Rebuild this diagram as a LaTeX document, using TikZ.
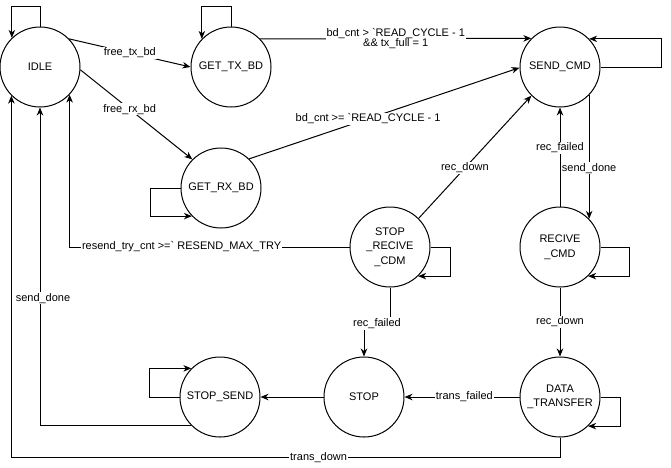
\documentclass[tikz,border=0pt]{standalone}
\usepackage{fontspec}
\setmainfont{Liberation Sans}
\usetikzlibrary{arrows.meta}
\begin{document}
\begin{tikzpicture}[x=1pt,y=-1pt,line width=1pt,
  state/.style={draw,circle,minimum size=80pt,inner sep=0pt,align=center,font=\fontsize{11}{14.5}\selectfont},
  lbl/.style={fill=white,inner sep=1pt,font=\fontsize{11}{11}\selectfont,align=center},
  arr/.style={-{Stealth[length=8pt,width=6.5pt,inset=2.5pt]}}]
\useasboundingbox (0,0) rectangle (671,467);
\node[state] (idle) at (40,67) {IDLE};
\node[state] (gettx) at (231,67) {GET\_TX\_BD};
\node[state] (send) at (560,67) {SEND\_CMD};
\node[state] (getrx) at (221,188) {GET\_RX\_BD};
\node[state] (sr) at (390,247) {STOP\\\_RECIVE\\\_CDM};
\node[state] (recv) at (560,247) {RECIVE\\\_CMD};
\node[state] (stop) at (364,397) {STOP};
\node[state] (data) at (560,397) {DATA\\\_TRANSFER};
\node[state] (ss) at (220,397) {STOP\_SEND};

% self loops
\draw[arr] (idle.north) -- ++(0,-20) -| (idle.134.4);
\draw[arr] (gettx.north) -- ++(0,-20) -| (gettx.136.5);
\draw[arr] (send.east) -- ++(61,0) |- (send.44.4);
\draw[arr] (getrx.west) -- ++(-30,0) |- (getrx.224.4);
\draw[arr] (recv.east) -- ++(29,0) |- (recv.-46.5);
\draw[arr] (sr.east) -- ++(20,0) |- (sr.-46.5);
\draw[arr] (data.east) -- ++(20,0) |- (data.-46.5);
\draw[arr] (ss.west) -- ++(-30,0) |- (ss.135.6);

% transitions
\draw[arr] (idle.44) -- node[lbl] {free\_tx\_bd} (gettx.west);
\draw[arr] (idle.-4) -- node[lbl,pos=0.44] {free\_rx\_bd} (getrx.135);
\draw[arr] (gettx.44.4) -- node[lbl] {bd\_cnt > \textasciigrave READ\_CYCLE - 1\\[-0.5pt]\&\& tx\_full = 1} (send.135.6);
\draw[arr] (getrx.46) -- node[lbl,pos=0.44] {bd\_cnt >= \textasciigrave READ\_CYCLE - 1} (send.181);
\draw[arr] (sr.45) -- node[lbl,pos=0.41] {rec\_down} (send.225);
\draw[arr] (send.-44.4) -- node[lbl,pos=0.59] {send\_done} (recv.44.4);
\draw[arr] (recv.north) -- node[lbl,pos=0.59] {rec\_failed} (send.south);
\draw[arr] (sr.west) -| node[lbl,pos=0.3] {resend\_try\_cnt >=\textasciigrave{} RESEND\_MAX\_TRY} (idle.-43.5);
\draw[arr] (sr.south) -- ++(0,36) -| node[lbl,pos=0.25] {rec\_failed} (stop.north);
\draw[arr] (recv.south) -- node[lbl] {rec\_down} (data.north);
\draw[arr] (data.west) -- node[lbl,pos=0.48] {trans\_failed} (stop.east);
\draw[arr] (stop.west) -- (ss.east);
\draw[arr] (ss.225) -| node[lbl,pos=0.7,xshift=3pt] {send\_done} (idle.south);
\draw[arr] (data.south) -- ++(0,20) -| node[lbl,pos=0.22] {trans\_down} (idle.225.6);
\end{tikzpicture}
\end{document}
